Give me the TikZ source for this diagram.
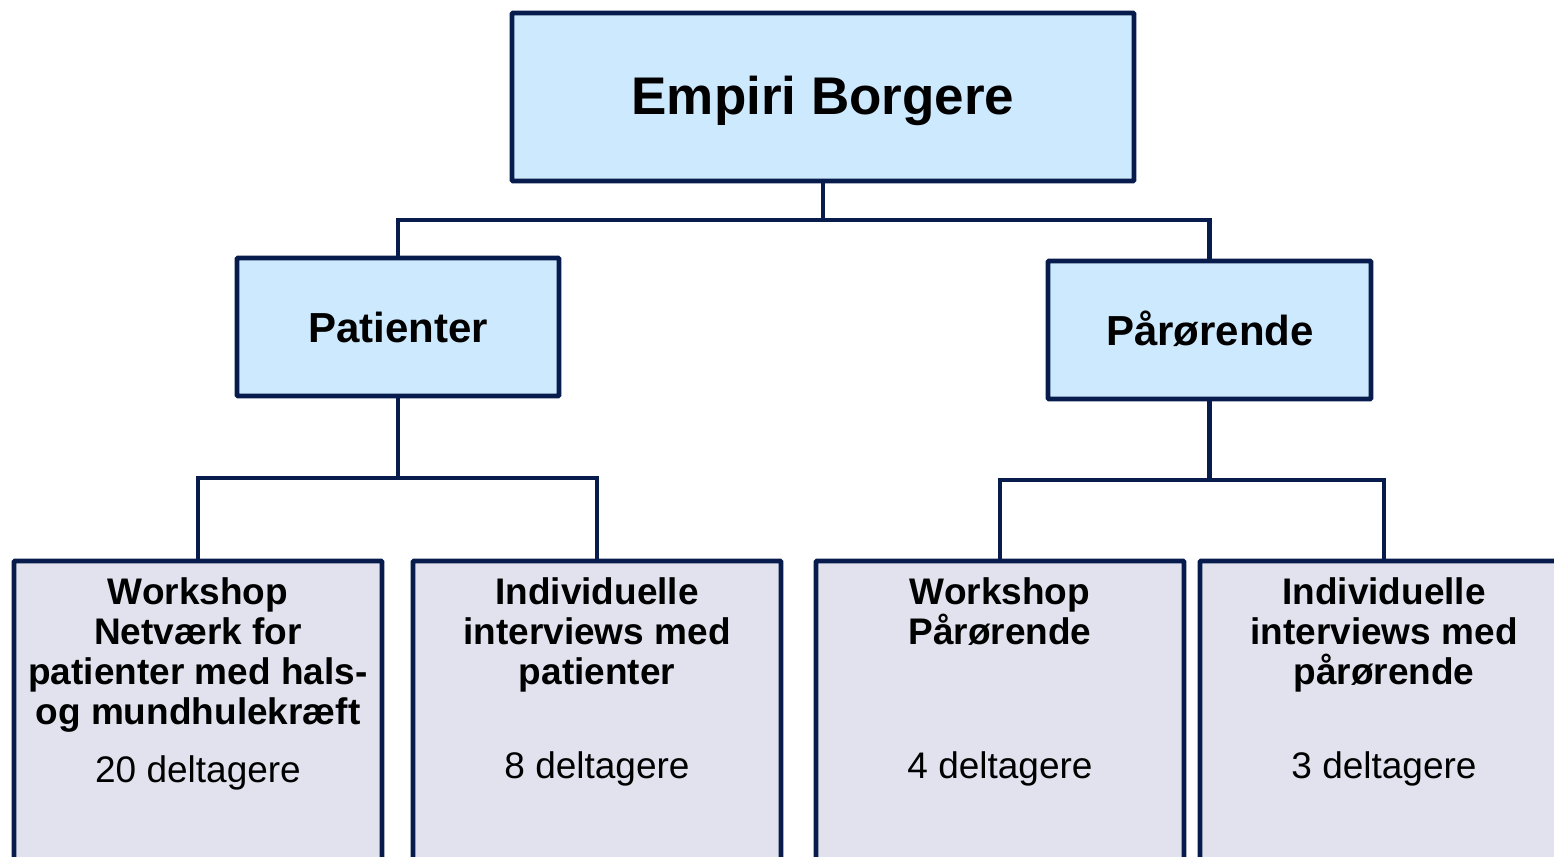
\documentclass[tikz,border=0pt]{standalone}
\usepackage{fontspec}
\setmainfont{Liberation Sans}
\definecolor{navy}{HTML}{071C4C}
\definecolor{lblue}{HTML}{CDE9FD}
\definecolor{lgray}{HTML}{E1E2EE}
\begin{document}
\begin{tikzpicture}[x=1pt,y=-1pt,
  boxbase/.style={draw=navy,line width=4.8pt,rounded corners=1pt,inner sep=0pt,outer sep=0pt,anchor=north west},
  topbox/.style={boxbase,fill=lblue},
  lowbox/.style={boxbase,fill=lgray,minimum width=368pt,minimum height=340pt},
  link/.style={draw=navy,line width=4.8pt},
  ttl/.style={inner sep=0pt,anchor=north,align=center,font=\fontsize{37}{40.3}\selectfont\bfseries},
  cnt/.style={inner sep=0pt,anchor=base,font=\fontsize{37}{40}\selectfont}
]
\useasboundingbox (0,0) rectangle (1554,856);
% top level
\node[topbox,minimum width=622pt,minimum height=168pt] (emp) at (512,13) {};
\node[inner sep=0pt,anchor=base,font=\fontsize{53}{60}\selectfont\bfseries] (empt) at (823,115) {Empiri Borgere};
% second level
\node[topbox,minimum width=322pt,minimum height=138pt] (pat) at (237,258) {};
\node[inner sep=0pt,anchor=base,font=\fontsize{42}{48}\selectfont\bfseries] (patt) at (398,342) {Patienter};
\node[topbox,minimum width=323pt,minimum height=138pt] (par) at (1048,261) {};
\node[inner sep=0pt,anchor=base,font=\fontsize{42}{48}\selectfont\bfseries] (part) at (1210,345) {Pårørende};
% third level
\node[lowbox] (b1) at (14,561) {};
\node[lowbox] (b2) at (413,561) {};
\node[lowbox] (b3) at (816,561) {};
\node[lowbox] (b4) at (1200,561) {};
\node[ttl] (t1) at (198,577) {Workshop\\Netværk for\\patienter med hals-\\og mundhulekræft};
\node[ttl] (t2) at (597,577) {Individuelle\\interviews med\\patienter};
\node[ttl] (t3) at (1000,577) {Workshop\\Pårørende};
\node[ttl] (t4) at (1384,577) {Individuelle\\interviews med\\pårørende};
\node[cnt] (c1) at (198,782) {20 deltagere};
\node[cnt] (c2) at (597,778) {8 deltagere};
\node[cnt] (c3) at (1000,778) {4 deltagere};
\node[cnt] (c4) at (1384,778) {3 deltagere};
% connectors
\coordinate (h1) at (0,220);
\coordinate (h2) at (0,478);
\coordinate (h3) at (0,480);
\coordinate (j1) at (emp.south |- h1);
\coordinate (j2) at (pat.south |- h2);
\coordinate (j3) at (par.south |- h3);
\draw[link] (emp.south) -- (j1);
\draw[link] (j1) -| (pat.north);
\draw[link] (j1) -| (par.north);
\draw[link] (pat.south) -- (j2);
\draw[link] (j2) -| (b1.north);
\draw[link] (j2) -| (b2.north);
\draw[link] (par.south) -- (j3);
\draw[link] (j3) -| (b3.north);
\draw[link] (j3) -| (b4.north);
\end{tikzpicture}
\end{document}
